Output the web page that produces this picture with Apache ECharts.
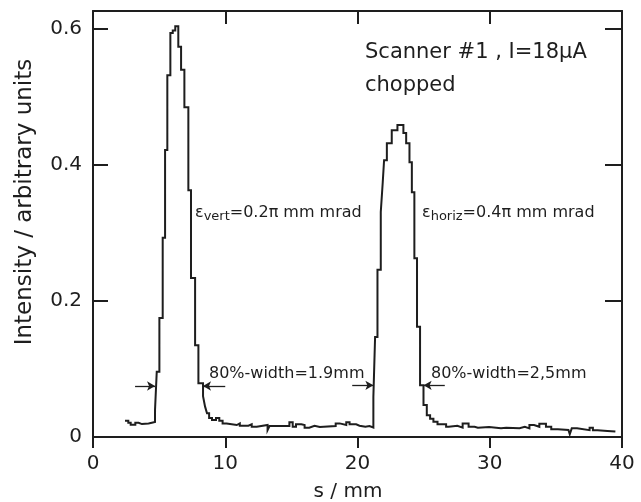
<!DOCTYPE html>
<html>
<head>
<meta charset="utf-8">
<title>Scanner #1 profile</title>
<script src="https://cdn.jsdelivr.net/npm/echarts/dist/echarts.min.js"></script>
<style>
  html, body { margin: 0; padding: 0; background: #fff; }
  #chart { width: 641px; height: 502px; }
</style>
</head>
<body>
<div id="chart"></div>
<script>
var sPos = [
  2.42, 2.67, 2.85, 3.20, 3.45, 3.70, 4.20, 4.45,
  4.69, 4.82, 5.02, 5.27, 5.45, 5.62, 5.85, 6.03, 6.22,
  6.45, 6.66, 6.91, 7.21, 7.41, 7.72, 7.97, 8.32, 8.47, 8.62, 8.78,
  9.00, 9.30, 9.55, 9.80, 10.10, 10.87, 11.10, 11.75, 12.00, 12.38,
  13.20, 13.35, 14.85, 15.10, 15.35, 15.75, 16.00, 16.35, 16.75, 17.15,
  18.35, 18.65, 19.15, 19.40, 19.90, 20.15, 20.60, 20.90,
  21.20, 21.33, 21.51, 21.76, 21.91, 22.01, 22.22, 22.59, 23.02,
  23.47, 23.68, 23.93, 24.11, 24.30, 24.50, 24.73, 24.99, 25.24, 25.49,
  25.74, 26.05, 26.70, 26.90, 27.55, 27.95, 28.40, 28.85, 29.10, 29.95,
  30.85, 31.25, 32.25, 32.65, 33.00, 33.35, 33.75, 34.25, 34.65, 35.15,
  35.95, 36.05, 36.20, 36.60, 37.55, 37.80, 38.15, 38.90, 39.50
];
var intensity = [
  0.024, 0.021, 0.018, 0.021, 0.019, 0.020, 0.021, 0.022,
  0.040, 0.096, 0.175, 0.293, 0.422, 0.532, 0.594, 0.598, 0.604,
  0.574, 0.540, 0.485, 0.363, 0.234, 0.135, 0.079, 0.060, 0.045, 0.035, 0.028,
  0.025, 0.028, 0.024, 0.020, 0.0176, 0.020, 0.0166, 0.0186, 0.015, 0.0176,
  0.010, 0.016, 0.0216, 0.015, 0.0186, 0.0176, 0.0137, 0.0166, 0.0147, 0.016,
  0.020, 0.0176, 0.0216, 0.0186, 0.0166, 0.015, 0.016, 0.014,
  0.059, 0.147, 0.246, 0.331, 0.375, 0.407, 0.432, 0.451, 0.459,
  0.447, 0.432, 0.404, 0.360, 0.263, 0.162, 0.076, 0.047, 0.032, 0.027,
  0.0225, 0.0186, 0.015, 0.0166, 0.0137, 0.020, 0.015, 0.0137, 0.0147, 0.0127,
  0.0137, 0.013, 0.015, 0.0127, 0.0176, 0.015, 0.0196, 0.015, 0.0113, 0.0103,
  0.0127, 0.004, 0.0127, 0.010, 0.0137, 0.010, 0.0088, 0.008, 0.008
];

var xTickValues = [0, 10, 20, 30, 40];
var yTickLabels = ['0', '0.2', '0.4', '0.6'];

// 80%-width markers: arrow tail, arrow head (at peak edge), level
var arrowFrom  = [3.18, 10.0, 19.6, 26.6];
var arrowTo    = [4.69, 8.32, 21.2, 25.0];
var arrowLevel = [0.075, 0.075, 0.076, 0.076];

var ink = '#1e1e1e';
var fontName = 'DejaVu Sans';

// histogram outline: each bin holds its value from its left edge to the next edge
var traceData = [];
for (var i = 0; i < sPos.length - 1; i++) {
  traceData.push([sPos[i], intensity[i]]);
  traceData.push([sPos[i + 1], intensity[i]]);
}
var arrowData = arrowFrom.map(function (a, k) {
  return [{ coord: [a, arrowLevel[k]] }, { coord: [arrowTo[k], arrowLevel[k]] }];
});

var myChart = echarts.init(document.getElementById('chart'));

var frameLine = { show: true, onZero: false, lineStyle: { color: ink, width: 2 } };
var subRich = {
  e: { fontSize: 16, fontFamily: fontName, lineHeight: 19, verticalAlign: 'top', fill: ink },
  s: { fontSize: 13, fontFamily: fontName, lineHeight: 13, verticalAlign: 'bottom', padding: [8, 0, 0, 0], fill: ink }
};

option = {
  animation: false,
  backgroundColor: '#fff',
  grid: { left: 93, right: 19, top: 11, bottom: 65 },
  xAxis: [
    {
      type: 'value', position: 'bottom', min: 0, max: 40, interval: 10,
      axisLine: frameLine,
      axisTick: { show: true, inside: false, length: 11, lineStyle: { color: ink, width: 2 } },
      axisLabel: {
        margin: 17, fontSize: 20, color: ink, fontFamily: fontName,
        formatter: function (v) { return xTickValues.indexOf(v) >= 0 ? String(v) : ''; }
      },
      splitLine: { show: false }
    },
    {
      type: 'value', position: 'top', min: 0, max: 40, interval: 10,
      axisLine: frameLine,
      axisTick: { show: true, inside: true, length: 13, lineStyle: { color: ink, width: 2 } },
      axisLabel: { show: false },
      splitLine: { show: false }
    }
  ],
  yAxis: [
    {
      type: 'value', position: 'left', min: 0, max: 0.6265, interval: 0.2,
      axisLine: frameLine,
      axisTick: { show: true, inside: true, length: 15, lineStyle: { color: ink, width: 2 } },
      axisLabel: {
        margin: 11, fontSize: 20, color: ink, fontFamily: fontName, showMaxLabel: false,
        formatter: function (v) { return yTickLabels[Math.round(v / 0.2)] || ''; }
      },
      splitLine: { show: false }
    },
    {
      type: 'value', position: 'right', min: 0, max: 0.6265, interval: 0.2,
      axisLine: frameLine,
      axisTick: { show: true, inside: true, length: 17, lineStyle: { color: ink, width: 2 } },
      axisLabel: { show: false },
      splitLine: { show: false }
    }
  ],
  series: [
    {
      type: 'line',
      xAxisIndex: 0,
      yAxisIndex: 0,
      data: traceData,
      showSymbol: false,
      symbol: 'none',
      lineStyle: { color: ink, width: 2, join: 'miter' },
      markLine: {
        silent: true,
        symbol: ['none', 'arrow'],
        symbolSize: [7, 8],
        label: { show: false },
        lineStyle: { color: ink, width: 1.3, type: 'solid' },
        data: arrowData
      }
    }
  ],
  graphic: [
    {
      type: 'text', x: 25, y: 202, rotation: Math.PI / 2,
      style: { text: 'Intensity / arbitrary units', font: '23px "DejaVu Sans"', fill: ink,
               textAlign: 'center', textVerticalAlign: 'middle' }
    },
    {
      type: 'text', x: 348, y: 492,
      style: { text: 's / mm', font: '20px "DejaVu Sans"', fill: ink,
               textAlign: 'center', textVerticalAlign: 'middle' }
    },
    {
      type: 'text', x: 365, y: 53,
      style: { text: 'Scanner #1 , I=18μA', font: '21px "DejaVu Sans"', fill: ink,
               textAlign: 'left', textVerticalAlign: 'middle' }
    },
    {
      type: 'text', x: 365, y: 86,
      style: { text: 'chopped', font: '21px "DejaVu Sans"', fill: ink,
               textAlign: 'left', textVerticalAlign: 'middle' }
    },
    {
      type: 'text', x: 195, y: 214,
      style: { text: '{e|ε}{s|vert}{e|=0.2π mm mrad}', fill: ink,
               textAlign: 'left', textVerticalAlign: 'middle', rich: subRich }
    },
    {
      type: 'text', x: 422, y: 214,
      style: { text: '{e|ε}{s|horiz}{e|=0.4π mm mrad}', fill: ink,
               textAlign: 'left', textVerticalAlign: 'middle', rich: subRich }
    },
    {
      type: 'text', x: 209, y: 374,
      style: { text: '80%-width=1.9mm', font: '16px "DejaVu Sans"', fill: ink,
               textAlign: 'left', textVerticalAlign: 'middle' }
    },
    {
      type: 'text', x: 431, y: 374,
      style: { text: '80%-width=2,5mm', font: '16px "DejaVu Sans"', fill: ink,
               textAlign: 'left', textVerticalAlign: 'middle' }
    }
  ]
};

myChart.setOption(option);
</script>
</body>
</html>
